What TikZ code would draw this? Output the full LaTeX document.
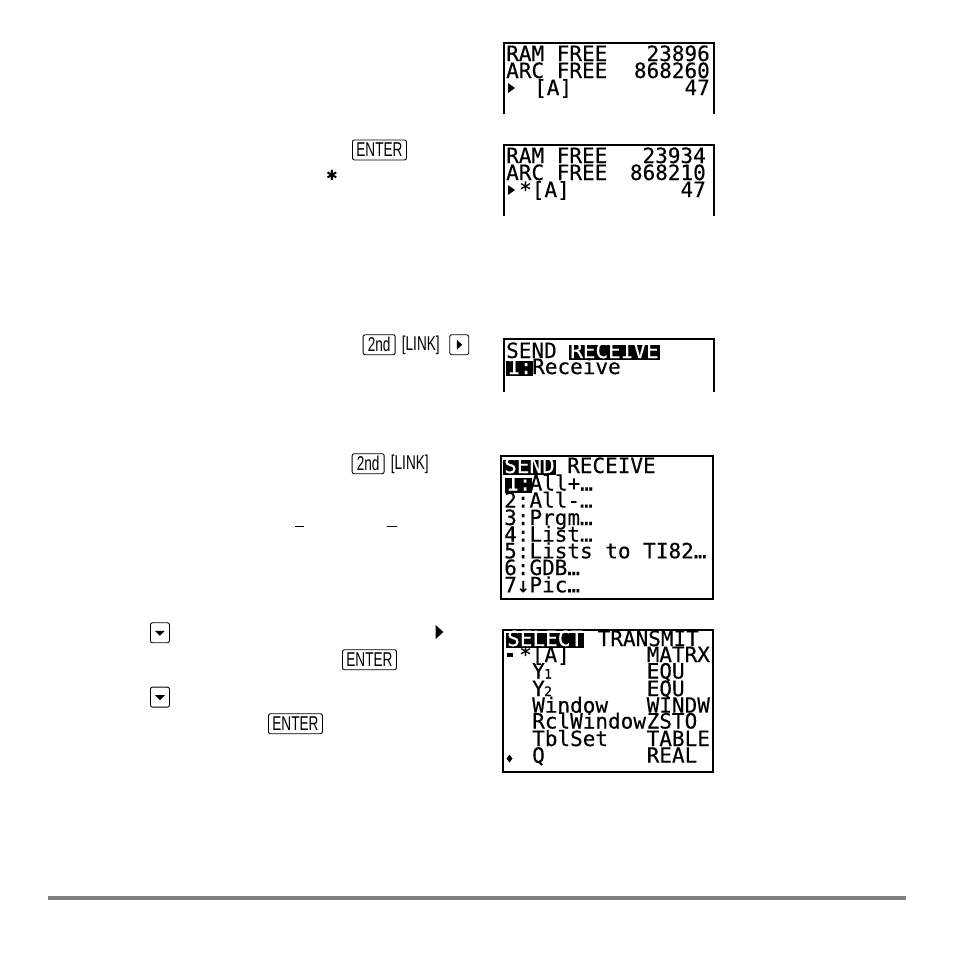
\documentclass[tikz,border=0pt]{standalone}
\usepackage{fontspec}
\setmainfont{Liberation Sans}
\newfontfamily\lcdfont[FakeBold=0.3]{DejaVu Sans Mono}
\newfontfamily\keyfont[FakeStretch=0.68]{Liberation Sans}
\newfontfamily\symfont{DejaVu Sans}
\tikzset{
  lcd/.style={anchor=base west,inner sep=0pt,font=\lcdfont\fontsize{21}{21}\selectfont},
  lcdval/.style={lcd,anchor=base east},
  lcdinv/.style={lcd,fill=black,text=white,inner xsep=1pt,text height=13pt,text depth=2pt},
  lcdsmall/.style={anchor=base west,inner sep=0pt,font=\lcdfont\fontsize{13}{13}\selectfont},
  screenline/.style={line width=2pt},
  keycap/.style={draw,rounded corners=2pt,line width=.9pt,inner sep=0pt,anchor=north west,minimum height=20pt,font=\keyfont\fontsize{20}{20}\selectfont},
  keyplain/.style={inner sep=0pt,anchor=base west,font=\keyfont\fontsize{20}{20}\selectfont},
  keyarrow/.style={keycap,minimum width=19pt}
}
\begin{document}
\begin{tikzpicture}[x=1pt,y=-1pt]
    \useasboundingbox (0,0) rectangle (954,954);
    \fill[white] (0,0) rectangle (954,954);
    %first memory screen
    \draw[screenline] (503.5,114) -- (503.5,43) -- (714,43) -- (714,114);
    \node[lcd] (ramA) at (506,61) {RAM FREE};
    \node[lcdval] (ramvalA) at (710,61) {23896};
    \node[lcd] (arcA) at (506,78) {ARC FREE};
    \node[lcdval] (arcvalA) at (710,78) {868260};
    \fill (508,83) -- (515,88) -- (508,93) -- cycle;
    \node[lcd] (curA) at (534,95) {[A]};
    \node[lcdval] (sizeA) at (710,95) {47};
    %second memory screen
    \draw[screenline] (503.5,216) -- (503.5,145) -- (714,145) -- (714,216);
    \node[lcd] (ramB) at (506,163) {RAM FREE};
    \node[lcdval] (ramvalB) at (706,163) {23934};
    \node[lcd] (arcB) at (506,180) {ARC FREE};
    \node[lcdval] (arcvalB) at (706,180) {868210};
    \fill (508,185) -- (515,190) -- (508,195) -- cycle;
    \node[lcd] (curB) at (519,197) {*[A]};
    \node[lcdval] (sizeB) at (706,197) {47};
    %receive screen
    \draw[screenline] (503.7,391.7) -- (503.7,339) -- (714,339) -- (714,391.7);
    \node[lcd] (sendR) at (506,358) {SEND};
    \node[lcdinv] (recvR) at (569,358) {RECEIVE};
    \node[lcdinv] (oneR) at (506,374) {1:};
    \node[lcd] (itemR) at (532,374) {Receive};
    %send screen
    \draw[screenline] (500.7,456) rectangle (712.7,599.3);
    \node[lcdinv] (sendS) at (503,473) {SEND};
    \node[lcd] (recvS) at (567,473) {RECEIVE};
    \node[lcdinv] (oneS) at (505,490.5) {1:};
    \node[lcd] (itemA) at (529.5,490.5) {All+…};
    \foreach \i/\yy/\txt in {B/507.7/2:All-…,C/525/3:Prgm…,D/541.7/4:List…,E/558.3/5:Lists to TI82…,F/575/6:GDB…,G/592.3/7↓Pic…}
        \node[lcd] (item\i) at (504,\yy) {\txt};
    %select screen
    \draw[screenline] (503.3,630) rectangle (712.7,771.7);
    \node[lcdinv] (selT) at (506,646) {SELECT};
    \node[lcd] (traT) at (597.5,646) {TRANSMIT};
    \fill (507,653) rectangle (513,657);
    \node[lcd] (varA) at (519,662) {*[A]};
    \node[lcd] (varB) at (532,678.5) {Y};
    \node[lcdsmall] (subB) at (544,678.5) {1};
    \node[lcd] (varC) at (532,696) {Y};
    \node[lcdsmall] (subC) at (544,696) {2};
    \foreach \i/\yy/\txt in {D/712.7/Window,E/728.5/RclWindow,F/746/TblSet,G/762.7/Q}
        \node[lcd] (var\i) at (532,\yy) {\txt};
    \fill (509.5,754.5) -- (512.5,758.5) -- (509.5,762.5) -- (506.5,758.5) -- cycle;
    \foreach \i/\yy/\txt in {A/662/MATRX,B/678.5/EQU,C/696/EQU,D/712.7/WINDW,E/728.5/ZSTO,F/746/TABLE,G/762.7/REAL}
        \node[lcd] (typ\i) at (646.5,\yy) {\txt};
    %key caps
    \node[keycap,minimum width=54pt] (enterA) at (352,139.5) {ENTER};
    \node[font=\symfont\fontsize{14}{14}\selectfont,inner sep=0pt] (star) at (332,175) {✱};
    \node[keycap,minimum width=32pt] (secondA) at (362.7,334.3) {2nd};
    \node[keyplain] (linkA) at (401.7,350.5) {[LINK]};
    \node[keyarrow] (rightA) at (449.3,334.3) {};
    \node[keycap,minimum width=32pt] (secondB) at (351.7,453.3) {2nd};
    \node[keyplain] (linkB) at (390.7,469.5) {[LINK]};
    \node[keyarrow] (downA) at (150,622.3) {};
    \node[keycap,minimum width=54pt] (enterB) at (342,649.3) {ENTER};
    \node[keyarrow] (downB) at (150,686.7) {};
    \node[keycap,minimum width=54pt] (enterC) at (268,713.3) {ENTER};
    %arrows inside the key caps
    \fill ([shift={(-2.5,-5)}]rightA.center) -- ([shift={(3,0)}]rightA.center) -- ([shift={(-2.5,5)}]rightA.center) -- cycle;
    \foreach \k in {downA,downB}
        \fill ([shift={(-5,-2)}]\k.center) -- ([shift={(5,-2)}]\k.center) -- ([shift={(0,3)}]\k.center) -- cycle;
    %loose marks
    \draw[line width=1.3pt] (295,526.7) -- (304,526.7);
    \draw[line width=1.3pt] (387.3,526.7) -- (396.7,526.7);
    \fill (435.7,625) -- (443.3,632) -- (435.7,639) -- cycle;
    \draw[line width=3.3pt,gray] (48,898) -- (906,898);
\end{tikzpicture}
\end{document}
